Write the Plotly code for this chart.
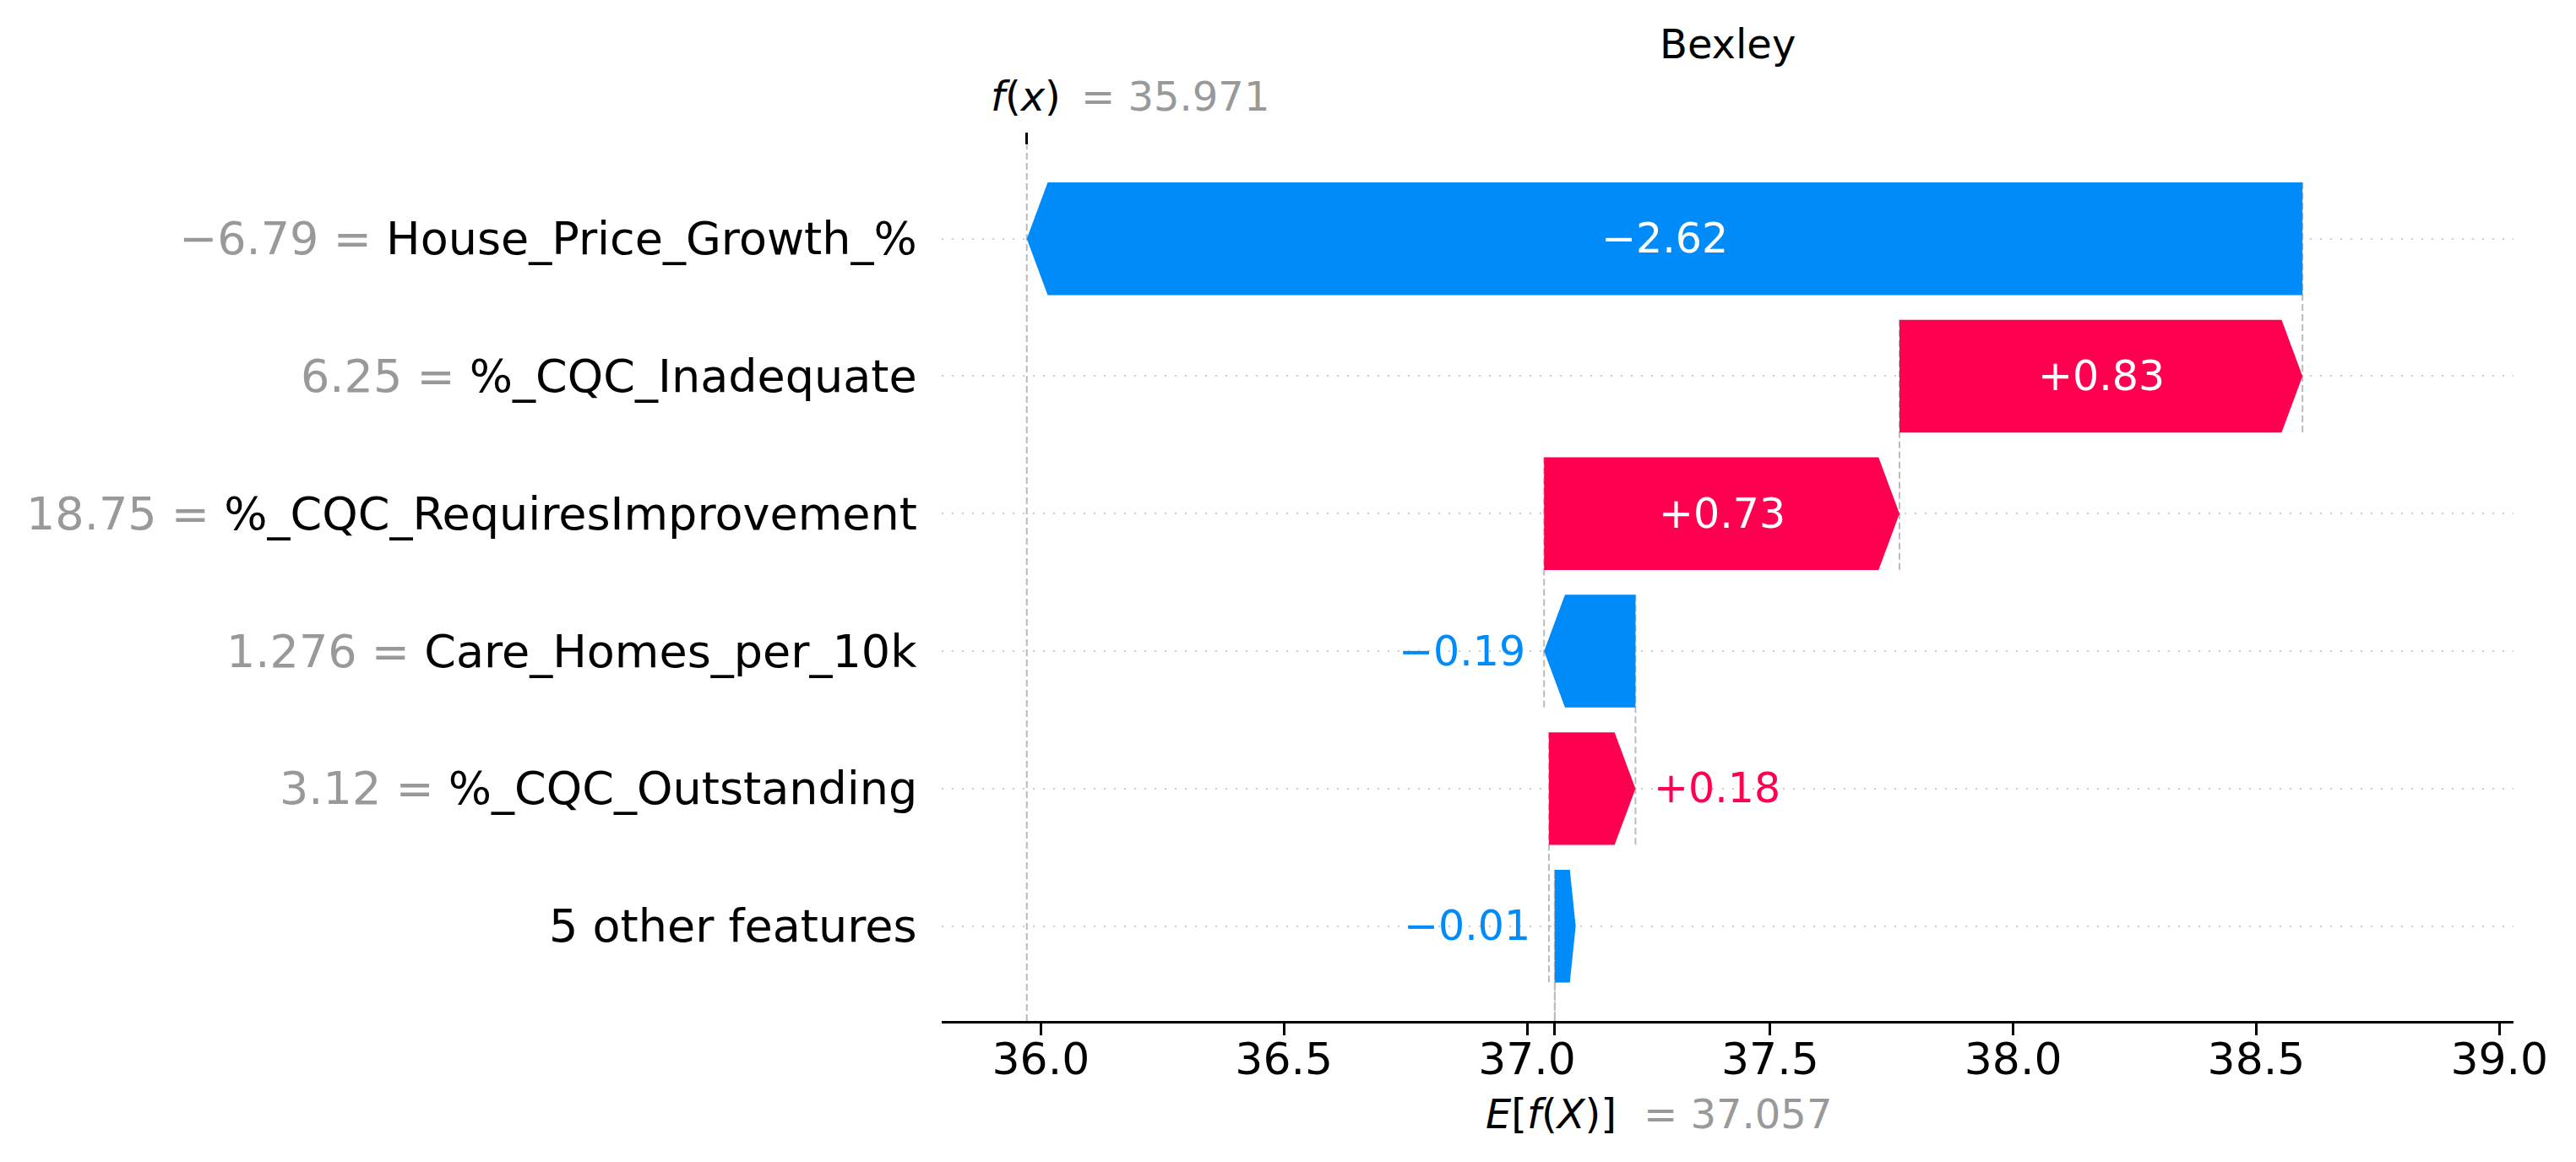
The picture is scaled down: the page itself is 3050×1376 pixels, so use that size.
import plotly.graph_objects as go

title = "Bexley"
features = ["House_Price_Growth_%", "%_CQC_Inadequate", "%_CQC_RequiresImprovement",
            "Care_Homes_per_10k", "%_CQC_Outstanding", "5 other features"]
feature_values = ["\u22126.79", "6.25", "18.75", "1.276", "3.12", ""]
shap_values = [-2.624, 0.829, 0.731, -0.188, 0.178, -0.012]
base_value = 37.057
x_ticks = [36.0, 36.5, 37.0, 37.5, 38.0, 38.5, 39.0]

BLUE = "#008bfb"
RED = "#ff0051"
GRAY = "#999999"
LINE_GRAY = "#bbbbbb"
FONT = "DejaVu Sans"

n = len(features)
fx = base_value + sum(shap_values)

# walk up from the base value (bottom row) to f(x) (top row)
starts = [0.0] * n
loc = base_value
for i in range(n - 1, -1, -1):
    starts[i] = loc
    loc += shap_values[i]

bar_w = 0.82
head = 0.043
y_range = [n - 1 + 0.69, -0.68]


def fmt(v):
    return f"{v:+.2f}".replace("-", "\u2212")


fig = go.Figure()
annotations = []
shapes = []

for i in range(n):
    s, v = starts[i], shap_values[i]
    e = s + v
    color = RED if v >= 0 else BLUE
    y0, y1 = i - bar_w / 2, i + bar_w / 2
    sign = 1 if v >= 0 else -1
    if abs(v) >= head:
        xs = [s, e - sign * head, e, e - sign * head, s, s]
    else:
        # tiny bar: the arrow collapses and ends up drawn pointing right
        body = s + (head - abs(v))
        xs = [s, body, body + abs(v), body, s, s]
    ys = [y0, y0, i, y1, y1, y0]
    fig.add_trace(go.Scatter(x=xs, y=ys, mode="lines", fill="toself",
                             fillcolor=color, line=dict(width=0, color=color),
                             hoverinfo="skip"))

    # value label
    if abs(v) > 0.3:
        annotations.append(dict(x=(s + e) / 2, y=i, xref="x", yref="y", text=fmt(v),
                                showarrow=False, font=dict(size=49, color="white")))
    elif v < 0:
        annotations.append(dict(x=min(s, e), y=i, xref="x", yref="y", text=fmt(v),
                                showarrow=False, xanchor="right", xshift=-20,
                                font=dict(size=49, color=color)))
    else:
        annotations.append(dict(x=e, y=i, xref="x", yref="y", text=fmt(v),
                                showarrow=False, xanchor="left", xshift=20,
                                font=dict(size=49, color=color)))

    # feature label
    if feature_values[i]:
        txt = f"<span style='color:{GRAY}'>{feature_values[i]} = </span>{features[i]}"
    else:
        txt = features[i]
    annotations.append(dict(x=0, y=i, xref="paper", yref="y", text=txt, showarrow=False,
                            xanchor="right", xshift=-27, font=dict(size=54, color="black")))

    # connector to the bar below
    shapes.append(dict(type="line", xref="x", yref="y", x0=s, x1=s,
                       y0=i - bar_w / 2, y1=min(i + 1 + bar_w / 2, y_range[0]),
                       line=dict(color=LINE_GRAY, width=2, dash="8px,4px"), layer="below"))

shapes.append(dict(type="line", xref="x", yref="paper", x0=fx, x1=fx, y0=0, y1=1,
                   line=dict(color=LINE_GRAY, width=2, dash="8px,4px"), layer="below"))
shapes.append(dict(type="line", xref="x", yref="paper", x0=base_value, x1=base_value,
                   y0=0, y1=1 / n, line=dict(color=LINE_GRAY, width=2, dash="8px,4px"),
                   layer="below"))

# f(x) and E[f(X)] labels
annotations += [
    dict(x=fx, y=1, xref="x", yref="paper", text="<i>f</i>(<i>x</i>)", showarrow=False,
         xanchor="right", xshift=42, yanchor="middle", yshift=58,
         font=dict(size=48, color="black")),
    dict(x=fx, y=1, xref="x", yref="paper", text=f"= {fx:.3f}", showarrow=False,
         xanchor="left", xshift=62, yanchor="middle", yshift=58,
         font=dict(size=48, color=GRAY)),
    dict(x=base_value, y=0, xref="x", yref="paper", text="<i>E</i>[<i>f</i>(<i>X</i>)]",
         showarrow=False, xanchor="right", xshift=75, yanchor="middle", yshift=-110,
         font=dict(size=48, color="black")),
    dict(x=base_value, y=0, xref="x", yref="paper", text=f"= {base_value:.3f}",
         showarrow=False, xanchor="left", xshift=103, yanchor="middle", yshift=-110,
         font=dict(size=48, color=GRAY)),
    dict(x=0.5, y=1, xref="paper", yref="paper", text=title, showarrow=False,
         yanchor="middle", yshift=120, font=dict(size=48, color="black")),
]

# invisible trace so the top axis (f(x) tick) is drawn
fig.add_trace(go.Scatter(x=[fx], y=[0], xaxis="x2", mode="markers",
                         marker=dict(opacity=0), hoverinfo="skip"))

x_range = [35.796, 39.029]
fig.update_layout(
    width=3050, height=1376,
    margin=dict(l=1115, r=74, t=172, b=167),
    plot_bgcolor="white", paper_bgcolor="white",
    showlegend=False,
    font=dict(family=FONT, color="black"),
    xaxis=dict(range=x_range, tickvals=x_ticks + [base_value],
               ticktext=[f"{t:.1f}" for t in x_ticks] + [""],
               ticks="outside", ticklen=14, tickwidth=3, tickcolor="black",
               showline=True, linewidth=3, linecolor="black", ticklabelstandoff=-16,
               showgrid=False, zeroline=False, tickfont=dict(size=52)),
    xaxis2=dict(range=x_range, overlaying="x", side="top", tickvals=[fx], ticktext=[""],
                ticks="outside", ticklen=14, tickwidth=3, tickcolor="black",
                showline=False, showgrid=False, zeroline=False),
    yaxis=dict(range=y_range, tickvals=list(range(n)), showticklabels=False,
               showgrid=True, gridcolor="#cccccc", gridwidth=2, griddash="2px,10px",
               zeroline=False, showline=False, ticks=""),
    annotations=annotations,
    shapes=shapes,
)

fig.write_html("out.html", config={"displayModeBar": False},
               post_script="document.body.style.margin = '0';")
